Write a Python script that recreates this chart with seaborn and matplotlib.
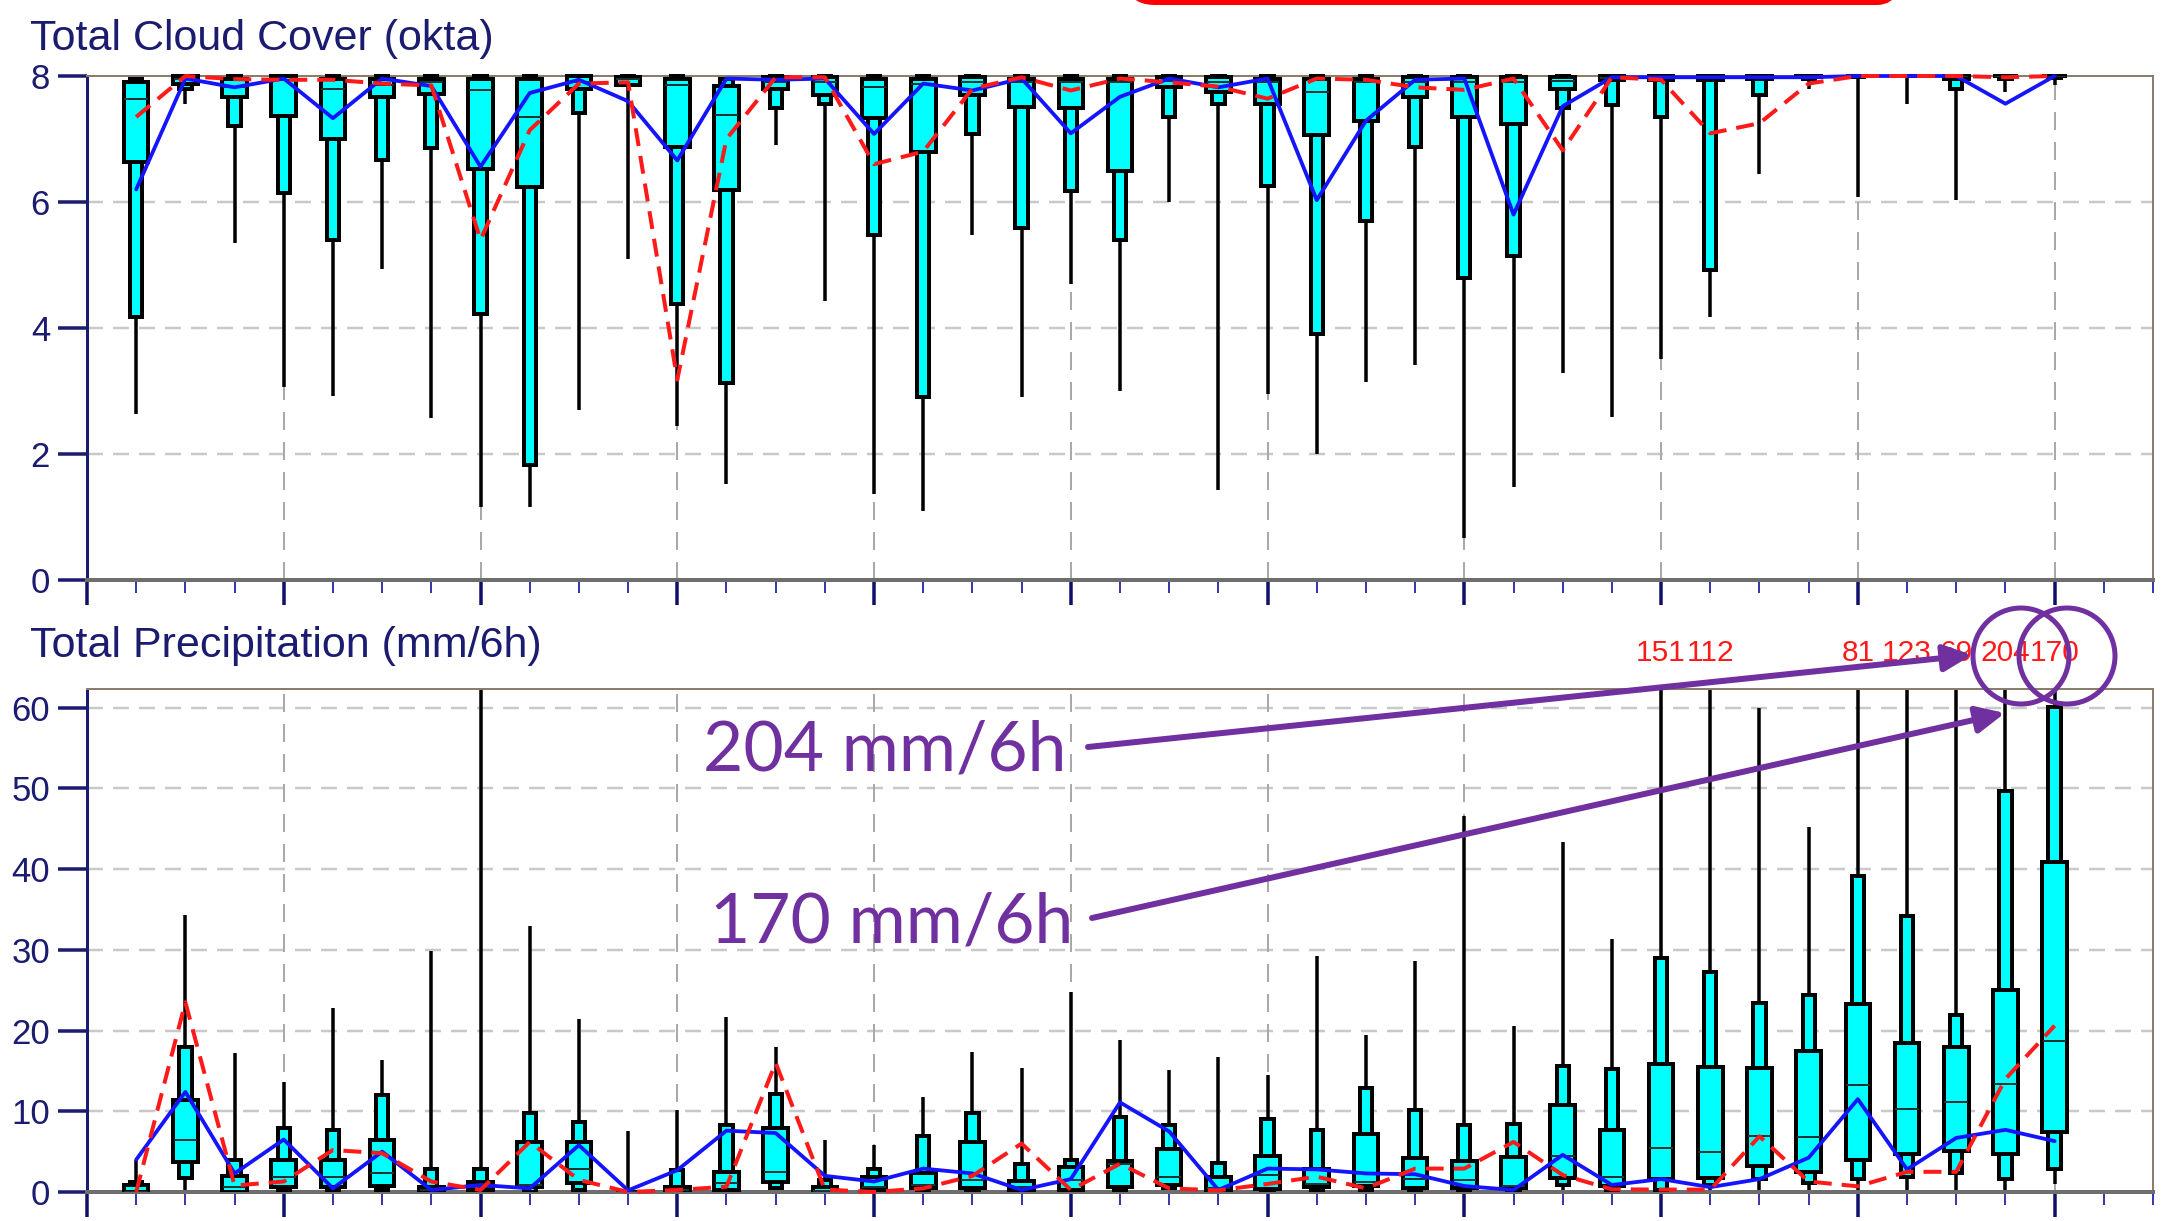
import matplotlib
matplotlib.use("Agg")
import numpy as np
import matplotlib.pyplot as plt
import seaborn as sns
from matplotlib.patches import Circle, FancyBboxPatch, FancyArrowPatch
from matplotlib.transforms import blended_transform_factory

# ---------------------------------------------------------------- data
steps = list(range(1, 41))

# Total cloud cover (okta): ensemble min / 10 / 25 / 50 / 75 / 90 / max, control, HRES
cc_min = [2.63, 7.55, 5.35, 3.07, 2.92, 4.93, 2.57, 1.16, 1.16, 2.70,
          5.10, 2.45, 1.53, 6.90, 4.43, 1.36, 1.10, 5.47, 2.90, 4.70,
          3.00, 6.00, 1.43, 2.96, 2.00, 3.14, 3.42, 0.66, 1.47, 3.29,
          2.59, 3.50, 4.17, 6.45, 7.80, 6.08, 7.56, 6.03, 7.75, 7.86]
cc_p10 = [4.17, 7.80, 7.20, 6.14, 5.40, 6.66, 6.85, 4.22, 1.82, 7.42,
          7.86, 4.38, 3.13, 7.49, 7.56, 5.47, 2.90, 7.08, 5.58, 6.17,
          5.40, 7.35, 7.56, 6.25, 3.90, 5.70, 6.88, 4.80, 5.15, 7.49,
          7.54, 7.35, 4.92, 7.70, 7.95, 7.98, 8.00, 7.80, 7.95, 7.97]
cc_p25 = [6.64, 7.88, 7.67, 7.36, 7.00, 7.67, 7.72, 6.53, 6.24, 7.80,
          7.86, 6.87, 6.19, 7.80, 7.70, 7.34, 6.80, 7.70, 7.51, 7.49,
          6.49, 7.83, 7.75, 7.56, 7.06, 7.29, 7.67, 7.35, 7.24, 7.80,
          7.93, 7.93, 7.93, 7.95, 7.98, 8.00, 8.00, 7.95, 8.00, 8.00]
cc_med = [7.64, 7.95, 7.82, 7.94, 7.80, 7.85, 7.90, 7.78, 7.35, 7.90,
          7.95, 7.86, 7.38, 7.90, 7.90, 7.82, 7.88, 7.90, 7.90, 7.90,
          7.90, 7.92, 7.90, 7.90, 7.75, 7.90, 7.90, 7.90, 7.90, 7.92,
          7.97, 7.97, 7.97, 8.00, 8.00, 8.00, 8.00, 8.00, 8.00, 8.00]
cc_p75 = [7.90, 8.00, 7.96, 8.00, 7.95, 7.96, 7.96, 7.95, 7.95, 8.00,
          7.98, 7.95, 7.84, 7.98, 7.98, 7.96, 7.96, 7.98, 7.96, 7.96,
          7.96, 7.98, 7.98, 7.96, 7.96, 7.96, 7.98, 7.98, 7.98, 7.98,
          8.00, 8.00, 8.00, 8.00, 8.00, 8.00, 8.00, 8.00, 8.00, 8.00]
cc_p90 = [7.95, 8.00, 8.00, 8.00, 8.00, 8.00, 8.00, 8.00, 8.00, 8.00,
          8.00, 8.00, 7.95, 8.00, 8.00, 8.00, 8.00, 8.00, 8.00, 8.00,
          8.00, 8.00, 8.00, 8.00, 8.00, 8.00, 8.00, 8.00, 8.00, 8.00,
          8.00, 8.00, 8.00, 8.00, 8.00, 8.00, 8.00, 8.00, 8.00, 8.00]
cc_max = [8.0] * 40
cc_ctrl = [6.20, 7.96, 7.82, 7.96, 7.33, 7.96, 7.84, 6.56, 7.73, 7.94,
           7.60, 6.66, 7.96, 7.94, 7.96, 7.08, 7.88, 7.77, 7.96, 7.09,
           7.67, 7.96, 7.82, 7.96, 6.03, 7.29, 7.94, 7.96, 5.80, 7.52,
           7.98, 7.98, 7.98, 7.98, 7.98, 8.00, 8.00, 8.00, 7.56, 8.00]
cc_hres = [7.35, 8.00, 7.95, 7.94, 7.94, 7.88, 7.85, 5.40, 7.14, 7.88,
           7.90, 3.18, 7.00, 7.98, 7.98, 6.60, 6.80, 7.80, 7.98, 7.77,
           7.96, 7.90, 7.83, 7.64, 7.96, 7.94, 7.82, 7.78, 7.96, 6.82,
           7.98, 7.94, 7.09, 7.25, 7.88, 8.00, 8.00, 8.00, 7.98, 8.00]

# Total precipitation (mm/6h)
tp_min = [0, 0.25, 0, 0, 0, 0, 0, 0, 0, 0,
          0, 0, 0, 0, 0, 0, 0, 0, 0, 0,
          0, 0, 0, 0, 0, 0, 0, 0, 0, 0,
          0, 0, 0, 0, 0, 0, 0, 0, 0, 1.0]
tp_p10 = [0, 1.7, 0, 0.25, 0.25, 0.25, 0, 0, 0, 0.25,
          0, 0, 0, 0.45, 0, 0, 0.1, 0.2, 0, 0,
          0.3, 0.45, 0, 0.2, 0.25, 0.3, 0.3, 0.2, 0.2, 0.87,
          0.3, 0.3, 0.9, 1.6, 1.1, 1.6, 1.9, 2.4, 1.6, 2.8]
tp_p25 = [0, 3.76, 0, 0.66, 0.66, 0.74, 0, 0.25, 0.66, 1.07,
          0, 0, 0.2, 1.3, 0, 0.2, 0.45, 0.45, 0.2, 0.25,
          0.66, 0.87, 0.2, 0.33, 0.66, 0.74, 0.45, 0.45, 0.45, 1.7,
          0.74, 1.6, 1.7, 3.2, 2.5, 4.0, 4.7, 5.1, 4.7, 7.4]
tp_med = [0, 6.45, 0.66, 1.9, 1.9, 2.4, 0.2, 0.66, 0.9, 2.8,
          0, 0.2, 1.1, 2.5, 0.1, 0.6, 0.9, 1.5, 0.6, 1.5,
          3.5, 1.8, 0.5, 2.1, 1.0, 1.2, 1.6, 1.5, 0.7, 4.4,
          1.8, 5.4, 5.0, 6.9, 6.8, 13.3, 10.3, 11.2, 13.4, 18.7]
tp_p75 = [0.9, 11.4, 2.0, 4.0, 4.0, 6.45, 0.66, 1.3, 6.2, 6.2,
          0, 0.66, 2.5, 7.9, 0.6, 1.8, 2.4, 6.2, 1.4, 3.1,
          3.9, 5.3, 1.8, 4.5, 2.9, 7.2, 4.2, 3.9, 4.3, 10.8,
          7.7, 15.9, 15.5, 15.4, 17.5, 23.3, 18.4, 18.0, 25.0, 40.9]
tp_p90 = [1.2, 18.0, 4.0, 7.9, 7.7, 12.0, 2.8, 2.8, 9.75, 8.7,
          0, 2.7, 8.3, 12.1, 1.5, 2.9, 6.9, 9.8, 3.5, 4.0,
          9.3, 8.3, 3.6, 9.0, 7.7, 12.9, 10.2, 8.3, 8.4, 15.6,
          15.2, 29.0, 27.2, 23.4, 24.4, 39.2, 34.2, 21.9, 49.7, 60.1]
tp_max = [4.0, 34.3, 17.2, 13.6, 22.8, 16.4, 29.9, 62.3, 32.9, 21.4,
          7.5, 10.2, 21.7, 17.9, 6.4, 5.8, 11.8, 17.3, 15.3, 24.8,
          18.8, 15.1, 16.7, 14.5, 29.2, 19.5, 28.6, 46.6, 20.6, 43.4,
          31.3, 151, 112, 60.0, 45.2, 81, 123, 69, 204, 170]
tp_ctrl = [4.0, 12.4, 2.3, 6.5, 0.45, 5.0, 0.25, 0.87, 0.45, 5.8,
           0.2, 2.7, 7.6, 7.3, 2.0, 1.3, 2.9, 2.3, 0.25, 1.6,
           11.1, 7.5, 0.25, 2.9, 2.8, 2.3, 2.2, 0.74, 0.25, 4.6,
           0.87, 1.6, 0.6, 1.6, 4.25, 11.5, 2.8, 6.7, 7.7, 6.3]
tp_hres = [0, 23.5, 0.8, 1.3, 5.2, 4.8, 1.3, 0.25, 6.2, 1.5,
           0, 0.25, 0.66, 16.0, 0.3, 0, 0.45, 2.0, 6.0, 0.25,
           3.5, 0.45, 0.2, 1.0, 1.9, 0.45, 2.9, 2.9, 6.2, 2.1,
           0.33, 0.3, 0.3, 6.9, 1.3, 0.7, 2.5, 2.5, 14.0, 20.6]

cc_title = "Total Cloud Cover (okta)"
tp_title = "Total Precipitation (mm/6h)"
cc_yticks = [0, 2, 4, 6, 8]
tp_yticks = [0, 10, 20, 30, 40, 50, 60]
note_hi = "204 mm/6h"
note_lo = "170 mm/6h"

# ---------------------------------------------------------------- style
sns.set_style("white")
plt.rcParams["font.family"] = ["Liberation Sans", "DejaVu Sans"]
plt.rcParams["lines.scale_dashes"] = False

W, H, DPI = 2169, 1221, 100
PT = 72.0 / DPI          # points per pixel


def pt(v):
    return v * PT


NAVY = "#1b1b70"
CYAN = "#00ffff"
FRAME = "#8a7e6a"
PURPLE = "#7030a0"

fig = plt.figure(figsize=(W / DPI, H / DPI), dpi=DPI)
fig.patch.set_facecolor("white")

ax_cc = fig.add_axes([87 / W, 1 - 580 / H, 2066 / W, 504 / H])
ax_tp = fig.add_axes([87 / W, 1 - 1192 / H, 2066 / W, 503 / H])


def draw_panel(ax, lo, p10, p25, med, p75, p90, hi, ctrl, hres,
               ylim, yticks, clip_boxes):
    x = np.array(steps, dtype=float)
    lo, p10, p25, med, p75, p90, hi = map(np.asarray, (lo, p10, p25, med, p75, p90, hi))

    ax.set_xlim(0, 42)
    ax.set_ylim(0, ylim)

    # grid
    for y in yticks:
        if 0 < y < ylim - 0.01:
            ax.axhline(y, color="#c9c9c9", lw=pt(2.5),
                       linestyle=(0, (pt(16), pt(10))), zorder=1)
    for xv in range(4, 41, 4):
        ax.axvline(xv, color="#a9a9a9", lw=pt(2),
                   linestyle=(0, (pt(18), pt(12))), zorder=1)

    # whiskers (min to max)
    ax.vlines(x, lo, np.minimum(hi, ylim * 1.2), color="black", lw=pt(3.5),
              zorder=2)
    # 10-90 box
    ax.bar(x, p90 - p10, bottom=p10, width=0.25, color=CYAN,
           edgecolor="black", linewidth=pt(4), zorder=3, clip_on=clip_boxes)
    # 25-75 box
    ax.bar(x, p75 - p25, bottom=p25, width=0.5, color=CYAN,
           edgecolor="black", linewidth=pt(4), zorder=4, clip_on=clip_boxes)
    # median
    ax.hlines(med, x - 0.24, x + 0.24, color="#1e3434", lw=pt(2), zorder=5)

    # control and high-resolution runs
    sns.lineplot(x=steps, y=ctrl, ax=ax, color="#1414ff", lw=pt(3.8),
                 zorder=6, clip_on=False)
    sns.lineplot(x=steps, y=hres, ax=ax, color="#ff1a1a", lw=pt(4),
                 linestyle=(0, (pt(18), pt(10))), zorder=7, clip_on=False)

    ax.set_xlabel("")
    ax.set_ylabel("")

    # axes furniture
    ax.set_yticks(yticks)
    ax.set_yticklabels([str(v) for v in yticks])
    ax.set_xticks(range(0, 41, 4))
    ax.set_xticks([v for v in range(0, 43) if v % 4 != 0 or v > 40], minor=True)
    ax.set_xticklabels([])
    ax.tick_params(axis="y", which="major", left=True, direction="out",
                   length=pt(29), width=pt(3.5), color=NAVY, labelcolor=NAVY,
                   labelsize=25, pad=pt(8))
    ax.tick_params(axis="x", which="major", bottom=True, direction="out",
                   length=pt(25), width=pt(3.5), color="#10106a")
    ax.tick_params(axis="x", which="minor", bottom=True, direction="out",
                   length=pt(13), width=pt(2), color="#3a3aa8")

    ax.spines["left"].set_color(NAVY)
    ax.spines["left"].set_linewidth(pt(3))
    ax.spines["bottom"].set_color("#6e6e6e")
    ax.spines["bottom"].set_linewidth(pt(4))
    for s in ("top", "right"):
        ax.spines[s].set_color(FRAME)
        ax.spines[s].set_linewidth(pt(2))
        ax.spines[s].set_visible(True)
    ax.set_facecolor("white")


draw_panel(ax_cc, cc_min, cc_p10, cc_p25, cc_med, cc_p75, cc_p90, cc_max,
           cc_ctrl, cc_hres, 8, cc_yticks, False)
draw_panel(ax_tp, tp_min, tp_p10, tp_p25, tp_med, tp_p75, tp_p90, tp_max,
           tp_ctrl, tp_hres, 62.3, tp_yticks, True)

# panel titles
fig.text(30 / W, 1 - 50 / H, cc_title, fontsize=31, color=NAVY, va="baseline")
fig.text(30 / W, 1 - 657 / H, tp_title, fontsize=31, color=NAVY, va="baseline")

# maxima that run off the precipitation scale
trans = blended_transform_factory(ax_tp.transData, fig.transFigure)
top = ax_tp.get_ylim()[1]
for s, m in zip(steps, tp_max):
    if m > top:
        ax_tp.text(s, 1 - 661 / H, f"{m:.0f}", transform=trans, ha="center",
                   va="baseline", fontsize=21.5, color="#ff1a1a", clip_on=False)

# call-outs drawn in pixel space
ov = fig.add_axes([0, 0, 1, 1], zorder=10)
ov.set_xlim(0, W)
ov.set_ylim(H, 0)
ov.axis("off")
ov.patch.set_alpha(0)

ov.add_patch(FancyBboxPatch((1127, -80), 1905 - 1127, 82.5,
                            boxstyle="round,pad=0,rounding_size=28",
                            fill=False, edgecolor="#ff0000", lw=pt(5)))

for cx in (2021, 2067):
    ov.add_patch(Circle((cx, 656), 48, fill=False, edgecolor=PURPLE,
                        lw=pt(5)))

for (x0, y0), (x1, y1) in (((1088, 747), (1972, 655)),
                           ((1092, 918), (2005, 713))):
    ov.add_patch(FancyArrowPatch((x0, y0), (x1, y1),
                                 arrowstyle="-|>,head_length=17,head_width=8",
                                 mutation_scale=1, color=PURPLE, lw=pt(6),
                                 shrinkA=0, shrinkB=0))

ov.text(703, 770, note_hi, fontsize=50, color=PURPLE, va="baseline",
        family=["Lato", "DejaVu Sans"])
ov.text(710, 942, note_lo, fontsize=50, color=PURPLE, va="baseline",
        family=["Lato", "DejaVu Sans"])

fig.savefig("out.png", dpi=DPI, facecolor="white")
